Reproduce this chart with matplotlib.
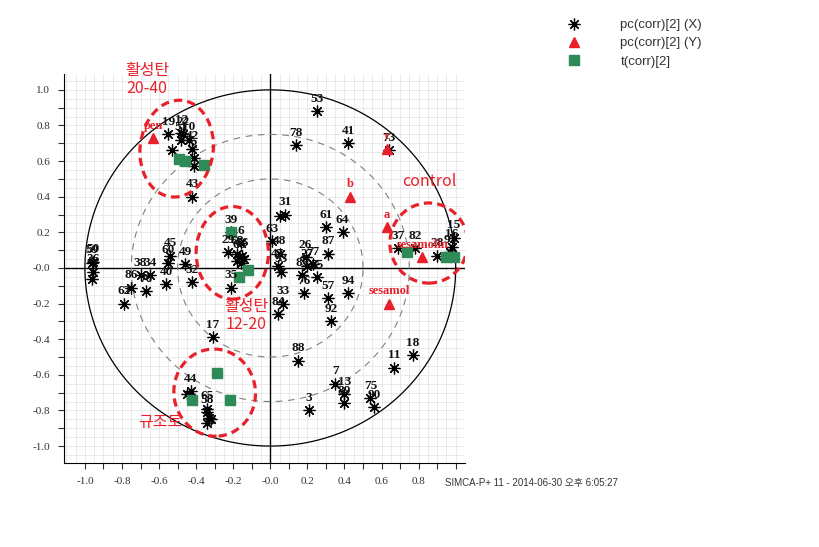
import numpy as np
import matplotlib
matplotlib.use("Agg")
import matplotlib.pyplot as plt
from matplotlib.patches import Ellipse

# pc(corr)[2] (X) loadings - star markers
x_labels = ["53", "78", "41", "73",
            "19", "12", "22", "10", "51", "", "42", "2", "", "43",
            "31", "", "61", "64", "63", "48", "26", "87", "77", "27", "47", "93",
            "85", "55", "76", "57", "94", "92", "33", "84", "88",
            "39", "6", "29", "68", "66", "56", "", "", "", "35",
            "49", "32", "17", "45", "60", "40", "38", "34", "86", "70", "62",
            "59", "50", "36", "",
            "44", "", "65", "58", "", "", "",
            "18", "11", "7", "13", "89", "75", "90", "3",
            "37", "82", "28", "16", "15", "95"]
x_px = [0.25, 0.14, 0.42, 0.64,
        -0.55, -0.48, -0.47, -0.44, -0.48, -0.53, -0.42, -0.41, -0.41, -0.42,
        0.08, 0.05, 0.30, 0.39, 0.01, 0.05, 0.19, 0.31, 0.23, 0.20, 0.04, 0.06,
        0.17, 0.25, 0.18, 0.31, 0.42, 0.33, 0.07, 0.04, 0.15,
        -0.21, -0.16, -0.23, -0.18, -0.17, -0.15, -0.18, -0.16, -0.14, -0.21,
        -0.46, -0.42, -0.31, -0.54, -0.55, -0.56, -0.70, -0.65, -0.75, -0.67, -0.79,
        -0.96, -0.955, -0.955, -0.96,
        -0.43, -0.45, -0.34, -0.34, -0.33, -0.34, -0.32,
        0.77, 0.67, 0.35, 0.40, 0.40, 0.54, 0.56, 0.21,
        0.69, 0.78, 0.90, 0.98, 0.99, 0.97]
x_py = [0.88, 0.69, 0.70, 0.66,
        0.75, 0.76, 0.75, 0.72, 0.72, 0.66, 0.67, 0.62, 0.57, 0.40,
        0.30, 0.29, 0.23, 0.20, 0.15, 0.08, 0.06, 0.08, 0.02, 0.01, 0.01, -0.02,
        -0.04, -0.05, -0.14, -0.17, -0.14, -0.30, -0.20, -0.26, -0.52,
        0.20, 0.14, 0.09, 0.08, 0.06, 0.07, 0.04, 0.03, 0.05, -0.11,
        0.02, -0.08, -0.39, 0.07, 0.03, -0.09, -0.04, -0.04, -0.11, -0.13, -0.20,
        0.03, 0.035, -0.02, -0.06,
        -0.69, -0.71, -0.79, -0.81, -0.84, -0.87, -0.85,
        -0.49, -0.56, -0.65, -0.71, -0.76, -0.73, -0.78, -0.80,
        0.11, 0.11, 0.07, 0.12, 0.17, 0.09]

# pc(corr)[2] (Y) - red triangles
y_labels = ["pen", "c", "b", "a", "sesamolin", "sesamol"]
y_px = [-0.63, 0.63, 0.43, 0.63, 0.82, 0.64]
y_py = [0.73, 0.67, 0.40, 0.23, 0.06, -0.20]

# t(corr)[2] - green squares
t_px = [-0.49, -0.46, -0.36, -0.21, -0.12, -0.17, 0.74, 0.95, 0.99, -0.29, -0.42, -0.22]
t_py = [0.61, 0.60, 0.58, 0.20, -0.01, -0.05, 0.09, 0.06, 0.06, -0.59, -0.74, -0.74]

# group annotations (ellipse centre, width, height, angle)
groups = ["활성탄\n20-40", "활성탄\n12-20", "control", "규조토"]
group_cx = [-0.505, -0.205, 0.855, -0.30]
group_cy = [0.67, 0.085, 0.14, -0.70]
group_w = [0.395, 0.39, 0.42, 0.44]
group_h = [0.545, 0.52, 0.45, 0.49]
group_ang = [-6, 0, 0, 5]
group_tx = [-0.665, -0.13, 0.86, -0.595]
group_ty = [1.06, -0.267, 0.483, -0.87]

tick_vals = np.round(np.arange(-1.0, 1.01, 0.1), 1)
xtick_text = ["-1.0", "", "-0.8", "", "-0.6", "", "-0.4", "", "-0.2", "", "-0.0",
              "", "0.2", "", "0.4", "", "0.6", "", "0.8", "", ""]
ytick_text = ["-1.0", "", "-0.8", "", "-0.6", "", "-0.4", "", "-0.2", "", "-0.0",
              "", "0.2", "", "0.4", "", "0.6", "", "0.8", "", "1.0"]

RED = "#e8202a"
GREEN = "#2e8b57"
KR = ["Noto Sans CJK KR", "DejaVu Sans"]

fig = plt.figure(figsize=(8.2, 5.47), dpi=100)
ax = fig.add_axes([0.078, 0.1536, 0.489, 0.7114])
ax.set_xlim(-1.113, 1.05)
ax.set_ylim(-1.095, 1.09)

# fine grid
grid = np.arange(-1.1, 1.11, 0.05)
for g in grid:
    ax.axvline(g, color="#e6e6e6", lw=0.6, zorder=0)
    ax.axhline(g, color="#e6e6e6", lw=0.6, zorder=0)

ax.axhline(0, color="black", lw=1.0, zorder=1)
ax.axvline(0, color="black", lw=1.0, zorder=1)

th = np.linspace(0, 2 * np.pi, 400)
ax.plot(np.cos(th), np.sin(th), color="black", lw=0.9, zorder=1)
for r in (0.75, 0.5):
    ax.plot(r * np.cos(th), r * np.sin(th), color="#808080", lw=0.8,
            dashes=(6, 5), zorder=1)

ax.plot(x_px, x_py, linestyle="none", marker=(8, 2, 0), ms=8.5, mew=0.9,
        color="black", label="pc(corr)[2] (X)", zorder=3)
ax.plot(y_px, y_py, linestyle="none", marker="^", ms=6.5, color=RED,
        mec=RED, label="pc(corr)[2] (Y)", zorder=4)
ax.plot(t_px, t_py, linestyle="none", marker="s", ms=7, color=GREEN,
        mec=GREEN, label="t(corr)[2]", zorder=5)

for lab, x, y in zip(x_labels, x_px, x_py):
    if lab:
        ax.annotate(lab, (x, y), xytext=(0, 4.5), textcoords="offset points",
                    ha="center", va="bottom", fontsize=9.5,
                    family="Liberation Serif", weight="bold", color="#111111",
                    zorder=6)
for lab, x, y in zip(y_labels, y_px, y_py):
    ax.annotate(lab, (x, y), xytext=(0, 4.5), textcoords="offset points",
                ha="center", va="bottom", fontsize=9,
                family="Liberation Serif", weight="bold", color=RED, zorder=7)

for name, cx, cy, w, h, a, tx, ty in zip(groups, group_cx, group_cy, group_w,
                                         group_h, group_ang, group_tx, group_ty):
    ax.add_patch(Ellipse((cx, cy), w, h, angle=a, fill=False, ec=RED, lw=2.3,
                         ls=(0, (2.6, 1.6)), zorder=8))
    ax.text(tx, ty, name, color=RED, fontsize=11.5, family=KR, ha="center",
            va="center", linespacing=1.05, zorder=8)

ax.set_xticks(tick_vals)
ax.set_xticklabels(xtick_text)
ax.set_yticks(tick_vals)
ax.set_yticklabels(ytick_text)
ax.tick_params(direction="out", length=4, width=0.8, labelsize=8,
               colors="#333333", pad=6)
for lbl in ax.get_xticklabels() + ax.get_yticklabels():
    lbl.set_family("Liberation Serif")
ax.spines["top"].set_visible(False)
ax.spines["right"].set_visible(False)

fig.legend(loc="upper left", bbox_to_anchor=(561 / 820, 1 - 19 / 547),
           frameon=False, handlelength=2, handletextpad=2.5,
           labelspacing=0.45, borderpad=0, borderaxespad=0,
           prop={"family": "Liberation Sans", "size": 9.5})
for t in fig.legends[0].get_texts():
    t.set_color("#333333")

fig.text(445 / 820, 1 - 483 / 547, "SIMCA-P+ 11 - 2014-06-30 오후 6:05:27",
         fontsize=7, family=["Liberation Sans", "Noto Sans CJK KR"],
         color="#333333", va="center")

fig.savefig("out.png", dpi=100)
